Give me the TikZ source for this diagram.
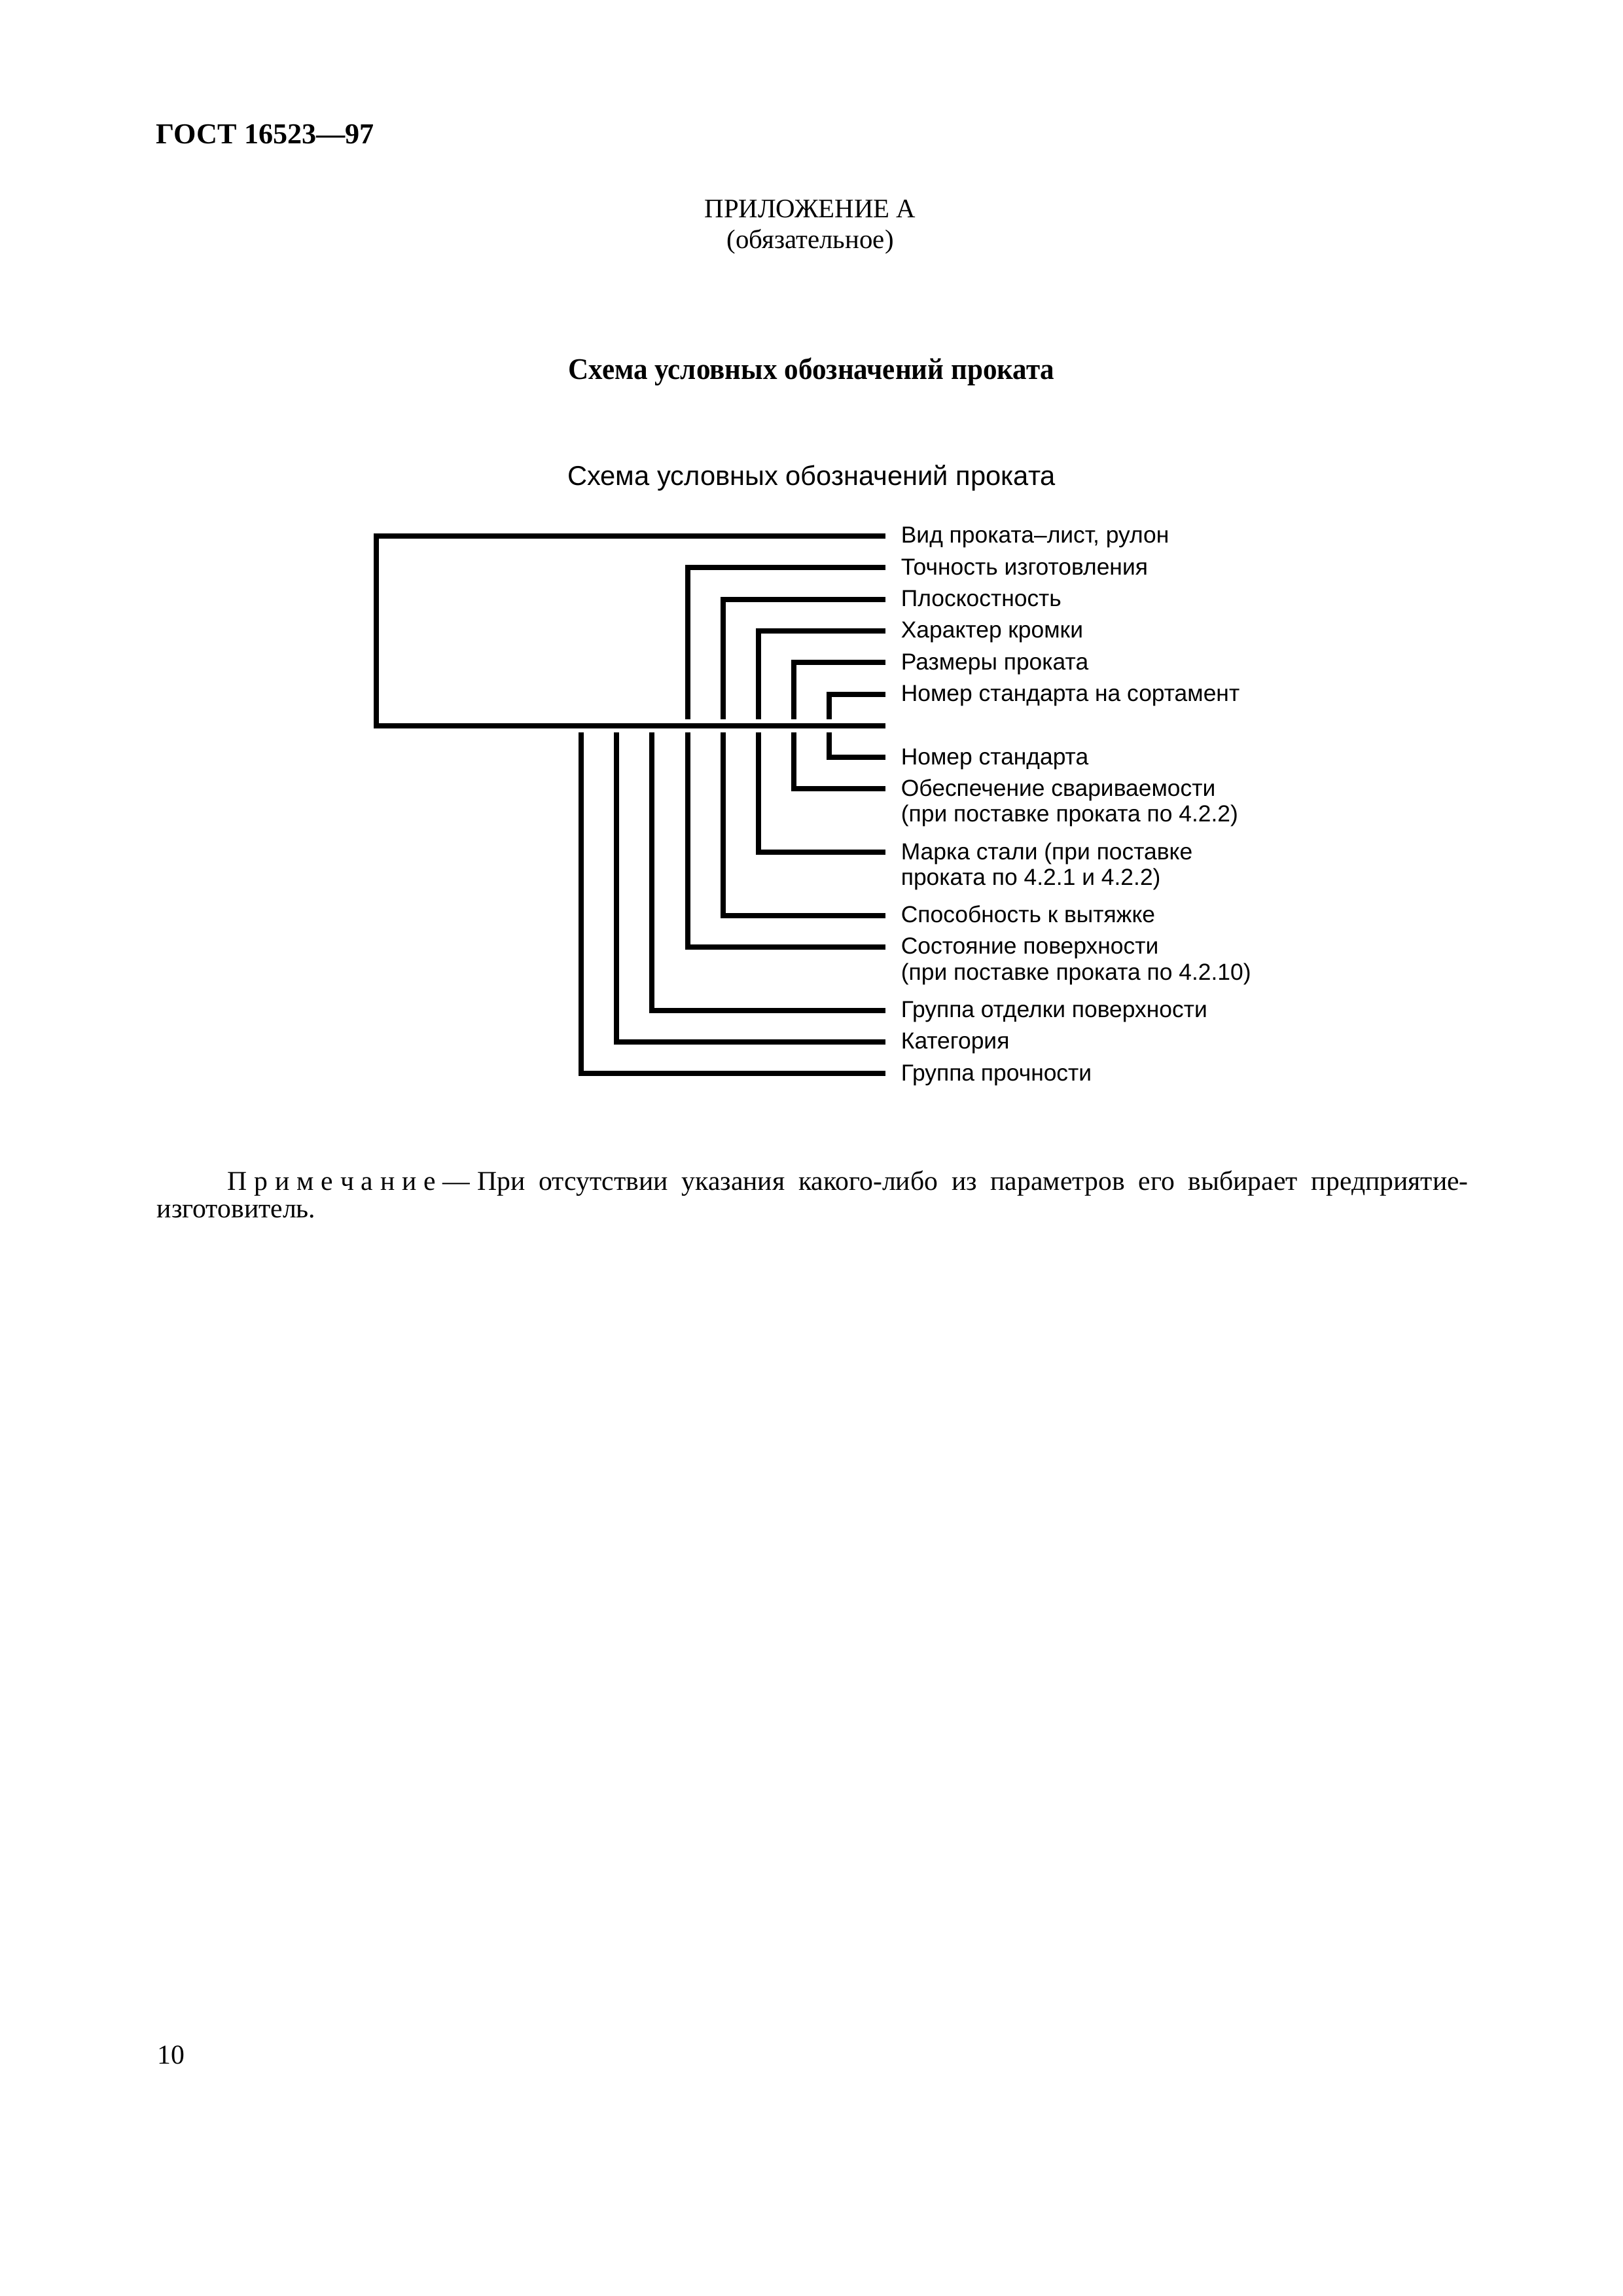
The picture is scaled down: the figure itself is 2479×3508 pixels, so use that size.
\documentclass[tikz,border=0pt]{standalone}
\usepackage{fontspec}
\usepackage{graphicx}
\setmainfont{Liberation Serif}
\newfontfamily\lsans{Liberation Sans}
\newcommand\myls{\hspace{2.6pt}}
\begin{document}
\begin{tikzpicture}[x=0.24pt,y=-0.24pt,
  ln/.style={line width=1.92pt},
  lbl/.style={anchor=base west, inner sep=0pt, font=\lsans\fontsize{8.5}{9.4}\selectfont},
  txt/.style={inner sep=0pt, font=\fontsize{10}{12}\selectfont}]
\useasboundingbox (0,0) rectangle (2479,3508);

% header
\node[txt, anchor=base west, font=\bfseries\fontsize{10.6}{13}\selectfont] (gost) at (238,220) {ГОСТ 16523—97};
\node[txt, anchor=base, font=\fontsize{9.8}{12}\selectfont] (pril) at (1238,333) {ПРИЛОЖЕНИЕ А};
\node[txt, anchor=base, font=\fontsize{9.8}{12}\selectfont] (obyaz) at (1238,380) {(обязательное)};
\node[txt, anchor=base, font=\bfseries\fontsize{11}{13}\selectfont] (title1) at (1240,580) {\scalebox{0.94}[1]{Схема условных обозначений проката}};
\node[txt, anchor=base, font=\lsans\fontsize{10}{12}\selectfont] (title2) at (1240,742) {Схема условных обозначений проката};

% line ends (right)
\coordinate (e0) at (1353,819.0);
\coordinate (e1) at (1353,867.3);
\coordinate (e2) at (1353,915.6);
\coordinate (e3) at (1353,963.9);
\coordinate (e4) at (1353,1012.2);
\coordinate (e5) at (1353,1060.5);
\coordinate (e6) at (1353,1108.8);
\coordinate (e7) at (1353,1157.1);
\coordinate (e8) at (1353,1205.4);
\coordinate (e10) at (1353,1302.0);
\coordinate (e12) at (1353,1398.6);
\coordinate (e13) at (1353,1446.9);
\coordinate (e15) at (1353,1543.5);
\coordinate (e16) at (1353,1591.8);
\coordinate (e17) at (1353,1640.1);

% rectangle
\coordinate (rb) at (575,1108.8);
\draw[ln] (e0) -| (rb) -- (e6);

% upper brackets: end above the bottom line
\coordinate (u3) at (1050.6,1098.8);
\coordinate (u4) at (1104.8,1098.8);
\coordinate (u5) at (1159.0,1098.8);
\coordinate (u6) at (1213.2,1098.8);
\coordinate (u7) at (1267.4,1098.8);
\draw[ln] (e1) -| (u3);
\draw[ln] (e2) -| (u4);
\draw[ln] (e3) -| (u5);
\draw[ln] (e4) -| (u6);
\draw[ln] (e5) -| (u7);

% lower brackets: start below the bottom line
\coordinate (d0) at (888.0,1118.8);
\coordinate (d1) at (942.2,1118.8);
\coordinate (d2) at (996.4,1118.8);
\coordinate (d3) at (1050.6,1118.8);
\coordinate (d4) at (1104.8,1118.8);
\coordinate (d5) at (1159.0,1118.8);
\coordinate (d6) at (1213.2,1118.8);
\coordinate (d7) at (1267.4,1118.8);
\draw[ln] (d7) |- (e7);
\draw[ln] (d6) |- (e8);
\draw[ln] (d5) |- (e10);
\draw[ln] (d4) |- (e12);
\draw[ln] (d3) |- (e13);
\draw[ln] (d2) |- (e15);
\draw[ln] (d1) |- (e16);
\draw[ln] (d0) |- (e17);

% labels
\node[lbl] (t0) at (1376,830.0) {Вид проката–лист, рулон};
\node[lbl] (t1) at (1376,878.3) {Точность изготовления};
\node[lbl] (t2) at (1376,926.6) {Плоскостность};
\node[lbl] (t3) at (1376,974.9) {Характер кромки};
\node[lbl] (t4) at (1376,1023.2) {Размеры проката};
\node[lbl] (t5) at (1376,1071.5) {Номер стандарта на сортамент};
\node[lbl] (t7) at (1376,1168.1) {Номер стандарта};
\node[lbl] (t8) at (1376,1216.4) {\begin{tabular}[t]{@{}l@{}}Обеспечение свариваемости\\(при поставке проката по 4.2.2)\end{tabular}};
\node[lbl] (t10) at (1376,1313.0) {\begin{tabular}[t]{@{}l@{}}Марка стали (при поставке\\проката по 4.2.1 и 4.2.2)\end{tabular}};
\node[lbl] (t12) at (1376,1409.6) {Способность к вытяжке};
\node[lbl] (t13) at (1376,1457.9) {\begin{tabular}[t]{@{}l@{}}Состояние поверхности\\(при поставке проката по 4.2.10)\end{tabular}};
\node[lbl] (t15) at (1376,1554.5) {Группа отделки поверхности};
\node[lbl] (t16) at (1376,1602.8) {Категория};
\node[lbl] (t17) at (1376,1651.1) {Группа прочности};

% note
\node[txt, anchor=base west] (note1) at (347,1818) {\makebox[455pt][s]{П\myls р\myls и\myls м\myls е\myls ч\myls а\myls н\myls и\myls е\myls—\myls При отсутствии указания какого-либо из параметров его выбирает предприятие-}};
\node[txt, anchor=base west] (note2) at (239,1860) {изготовитель.};

% page number
\node[txt, anchor=base west] (pnum) at (240,3153) {10};
\end{tikzpicture}
\end{document}
